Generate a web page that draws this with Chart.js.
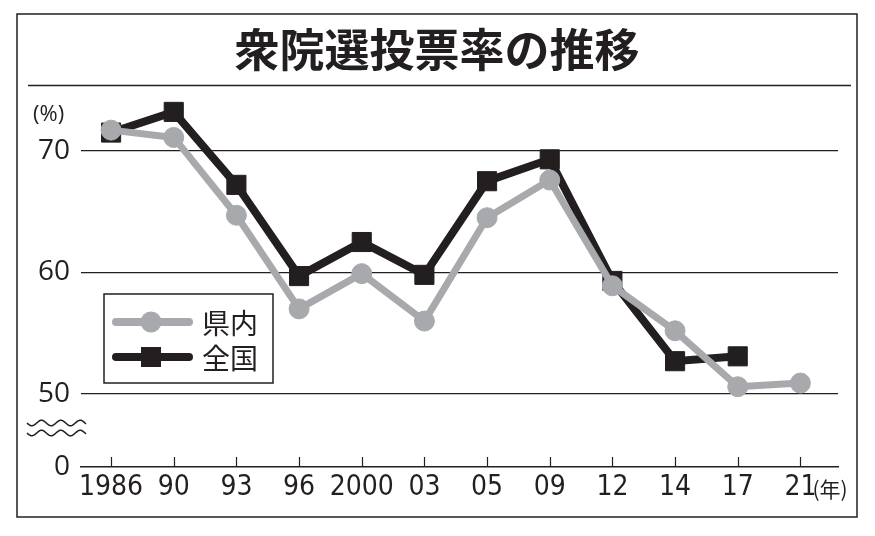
<!DOCTYPE html>
<html>
<head>
<meta charset="utf-8">
<script src="https://cdn.jsdelivr.net/npm/chart.js@4/dist/chart.umd.min.js"></script>
<style>
  html, body { margin: 0; padding: 0; background: #fff; }
  #wrap { width: 875px; height: 536px; }
</style>
</head>
<body>
<div id="wrap"><canvas id="chart" width="875" height="536"></canvas></div>
<script>
// data
const years = ['1986', '90', '93', '96', '2000', '03', '05', '09', '12', '14', '17', '21'];
const kennai = [71.7, 71.1, 64.7, 57.0, 59.9, 56.0, 64.5, 67.6, 58.9, 55.2, 50.6, 50.9];
const zenkoku = [71.5, 73.2, 67.2, 59.7, 62.5, 59.8, 67.5, 69.3, 59.3, 52.7, 53.1, null];
// broken axis: bottom of the plot stands for 0
const yTickValues = [44, 50, 60, 70];
const yTickLabels = ['0', '50', '60', '70'];

const INK = '#231f20';
const GRAY = '#a7a9ac';

const toPoints = arr => arr.map((v, i) => ({ x: i, y: v }));

const framePlugin = {
  id: 'frame',
  afterDraw(chart) {
    const ctx = chart.ctx;
    const area = chart.chartArea;
    ctx.save();
    // outer frame
    ctx.strokeStyle = INK;
    ctx.lineWidth = 1.5;
    ctx.strokeRect(17, 14, 840, 503);
    // title + rule
    ctx.fillStyle = INK;
    ctx.textAlign = 'center';
    ctx.textBaseline = 'middle';
    ctx.font = 'bold 45px "Noto Sans CJK JP"';
    ctx.fillText('衆院選投票率の推移', 437, 50);
    ctx.beginPath();
    ctx.moveTo(28, 85.5);
    ctx.lineTo(851, 85.5);
    ctx.lineWidth = 1.5;
    ctx.stroke();
    // unit labels
    ctx.font = '22px "Open Sans"';
    ctx.textAlign = 'left';
    ctx.fillText('(%)', 33, 115);
    const xs = chart.scales.x;
    const lastX = xs.getPixelForValue(years.length - 1);
    ctx.font = '21px "Noto Sans CJK JP"';
    ctx.fillText('(年)', lastX + 12, 489);
    // tick marks on x axis (inside)
    ctx.lineWidth = 1.2;
    years.forEach((_, i) => {
      const px = Math.round(xs.getPixelForValue(i)) + 0.5;
      ctx.beginPath();
      ctx.moveTo(px, area.bottom);
      ctx.lineTo(px, area.bottom - 10);
      ctx.stroke();
    });
    // wavy break mark
    ctx.lineWidth = 1.5;
    [423, 433].forEach(yy => {
      ctx.beginPath();
      for (let x = 27; x <= 86; x++) {
        const y = yy + 2.8 * Math.sin((x - 27) / 58 * Math.PI * 6);
        if (x === 27) ctx.moveTo(x, y); else ctx.lineTo(x, y);
      }
      ctx.stroke();
    });
    // legend box
    ctx.lineWidth = 1.5;
    ctx.strokeRect(104, 294, 169, 89);
    const items = chart.data.datasets;
    const rows = [322, 357];
    items.forEach((ds, i) => {
      const y = rows[i];
      ctx.strokeStyle = ds.borderColor;
      ctx.lineWidth = 8;
      ctx.lineCap = 'round';
      ctx.beginPath();
      ctx.moveTo(116, y);
      ctx.lineTo(189, y);
      ctx.stroke();
      ctx.fillStyle = ds.borderColor;
      if (ds.pointStyle === 'rect') {
        ctx.fillRect(141, y - 10, 20, 20);
      } else {
        ctx.beginPath();
        ctx.arc(151, y, 10.5, 0, Math.PI * 2);
        ctx.fill();
      }
      ctx.fillStyle = INK;
      ctx.font = '28px "Noto Sans CJK JP"';
      ctx.textAlign = 'left';
      ctx.textBaseline = 'middle';
      ctx.fillText(ds.label, 202, y + 1);
    });
    ctx.restore();
  }
};

new Chart(document.getElementById('chart'), {
  type: 'line',
  data: {
    datasets: [
      {
        label: '県内',
        data: toPoints(kennai),
        borderColor: GRAY,
        backgroundColor: GRAY,
        borderWidth: 7,
        pointStyle: 'circle',
        pointRadius: 10,
        pointBorderWidth: 1,
        pointBackgroundColor: GRAY,
        pointBorderColor: GRAY,
        borderJoinStyle: 'round'
      },
      {
        label: '全国',
        data: toPoints(zenkoku),
        borderColor: INK,
        backgroundColor: INK,
        borderWidth: 8,
        pointStyle: 'rect',
        pointRadius: 13.5,
        pointBorderWidth: 1,
        pointBackgroundColor: INK,
        pointBorderColor: INK,
        borderJoinStyle: 'miter'
      }
    ]
  },
  options: {
    responsive: false,
    animation: false,
    layout: { padding: { left: 0, top: 90, right: 37, bottom: 0 } },
    plugins: {
      legend: { display: false },
      title: { display: false },
      tooltip: { enabled: false }
    },
    scales: {
      x: {
        type: 'linear',
        min: -0.48,
        max: 11.6,
        afterFit: s => { s.height = 69; },
        afterBuildTicks: s => { s.ticks = years.map((_, i) => ({ value: i })); },
        ticks: {
          autoSkip: false,
          maxRotation: 0,
          padding: 4,
          color: INK,
          font: { family: '"Liberation Sans Narrow", "DejaVu Sans Condensed", sans-serif', size: 28 },
          callback: (v) => years[v]
        },
        grid: { display: false, drawTicks: false },
        border: { display: true, color: INK, width: 1.5 }
      },
      y: {
        min: 44,
        max: 75,
        afterFit: s => { s.width = 81; },
        afterBuildTicks: s => { s.ticks = yTickValues.map(v => ({ value: v })); },
        ticks: {
          padding: 11,
          color: INK,
          font: { family: '"Open Sans"', size: 28 },
          callback: (v) => yTickLabels[yTickValues.indexOf(v)]
        },
        grid: {
          drawTicks: false,
          color: ctx => ctx.tick && ctx.tick.value === 44 ? 'rgba(0,0,0,0)' : INK,
          lineWidth: 1.2
        },
        border: { display: false }
      }
    }
  },
  plugins: [framePlugin]
});
</script>
</body>
</html>
